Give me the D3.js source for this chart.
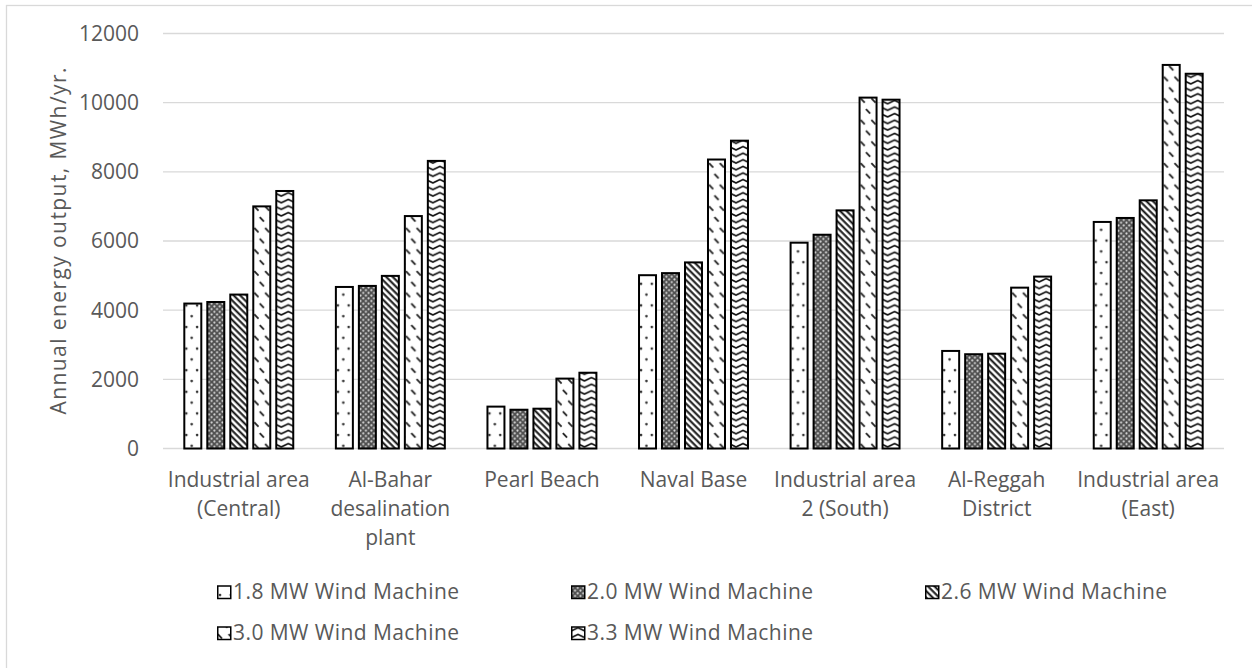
<!DOCTYPE html>
<html>
<head>
<meta charset="utf-8">
<script src="https://cdn.jsdelivr.net/npm/d3@7"></script>
<style>
  html, body { margin: 0; padding: 0; background: #fff; }
  svg { display: block; }
  text { font-family: "Open Sans", sans-serif; fill: #595959; }
</style>
</head>
<body>
<svg id="chart" width="1252" height="668"></svg>
<script>
// ---- data ----
const categories = [
  "Industrial area\n(Central)",
  "Al-Bahar\ndesalination\nplant",
  "Pearl Beach",
  "Naval Base",
  "Industrial area\n2 (South)",
  "Al-Reggah\nDistrict",
  "Industrial area\n(East)"
];
const seriesNames = [
  "1.8 MW Wind Machine",
  "2.0 MW Wind Machine",
  "2.6 MW Wind Machine",
  "3.0 MW Wind Machine",
  "3.3 MW Wind Machine"
];
const values18 = [4220, 4700, 1240, 5040, 5980, 2850, 6580];
const values20 = [4265, 4730, 1150, 5100, 6210, 2755, 6695];
const values26 = [4480, 5020, 1180, 5410, 6915, 2770, 7205];
const values30 = [7030, 6750, 2050, 8385, 10175, 4680, 11120];
const values33 = [7475, 8345, 2220, 8930, 10115, 5000, 10865];
const seriesValues = [values18, values20, values26, values30, values33];
const yTicks = [0, 2000, 4000, 6000, 8000, 10000, 12000];
const yTitle = "Annual energy output, MWh/yr.";

// ---- layout ----
const svg = d3.select("#chart");
const plot = { left: 163, right: 1224, top: 33.5, bottom: 448.5 };

// border
svg.append("rect").attr("x", 6.5).attr("y", 5.5).attr("width", 1300).attr("height", 700)
  .attr("fill", "none").attr("stroke", "#d9d9d9").attr("stroke-width", 1.3);

// patterns
const defs = svg.append("defs");
const patIds = ["p18", "p20", "p26", "p30", "p33"];
{
  let p = defs.append("pattern").attr("id", "p18").attr("patternUnits", "userSpaceOnUse")
    .attr("width", 10.8).attr("height", 21.6);
  p.append("rect").attr("width", 10.8).attr("height", 21.6).attr("fill", "#fff");
  p.append("circle").attr("cx", 3).attr("cy", 3).attr("r", 1.3).attr("fill", "#333");
  p.append("circle").attr("cx", 8.4).attr("cy", 13.8).attr("r", 1.3).attr("fill", "#333");

  p = defs.append("pattern").attr("id", "p20").attr("patternUnits", "userSpaceOnUse")
    .attr("width", 5.4).attr("height", 5.4);
  p.append("rect").attr("width", 5.4).attr("height", 5.4).attr("fill", "#505050");
  p.append("circle").attr("cx", 1.35).attr("cy", 1.35).attr("r", 1.05).attr("fill", "#ddd");
  p.append("circle").attr("cx", 4.05).attr("cy", 4.05).attr("r", 1.05).attr("fill", "#ddd");

  p = defs.append("pattern").attr("id", "p26").attr("patternUnits", "userSpaceOnUse")
    .attr("width", 4.6).attr("height", 4.6).attr("patternTransform", "rotate(-45)");
  p.append("rect").attr("width", 4.6).attr("height", 4.6).attr("fill", "#fff");
  p.append("line").attr("x1", 1.5).attr("y1", 0).attr("x2", 1.5).attr("y2", 4.6)
    .attr("stroke", "#111").attr("stroke-width", 2);

  p = defs.append("pattern").attr("id", "p30").attr("patternUnits", "userSpaceOnUse")
    .attr("width", 10.8).attr("height", 21.6);
  p.append("rect").attr("width", 10.8).attr("height", 21.6).attr("fill", "#fff");
  p.append("line").attr("x1", 0.8).attr("y1", 1).attr("x2", 5).attr("y2", 5.6)
    .attr("stroke", "#222").attr("stroke-width", 1.8);
  p.append("line").attr("x1", 6.2).attr("y1", 11.8).attr("x2", 10.4).attr("y2", 16.4)
    .attr("stroke", "#222").attr("stroke-width", 1.8);

  p = defs.append("pattern").attr("id", "p33").attr("patternUnits", "userSpaceOnUse")
    .attr("width", 14).attr("height", 6.6);
  p.append("rect").attr("width", 14).attr("height", 6.6).attr("fill", "#fff");
  p.append("path").attr("d", "M-1,5.2 L7,1.4 L15,5.2").attr("fill", "none")
    .attr("stroke", "#111").attr("stroke-width", 1.8);
}

// scales
const y = d3.scaleLinear().domain([0, 12000]).range([plot.bottom, plot.top]);
const x0 = d3.scaleBand().domain(d3.range(categories.length))
  .range([plot.left, plot.right]).paddingInner(0.268).paddingOuter(0.134);
const x1 = d3.scaleBand().domain(d3.range(seriesNames.length))
  .range([0, x0.bandwidth()]).paddingInner(0.174).paddingOuter(0);

// gridlines
svg.append("g").selectAll("line").data(yTicks).join("line")
  .attr("x1", plot.left).attr("x2", plot.right)
  .attr("y1", d => y(d)).attr("y2", d => y(d))
  .attr("stroke", "#d9d9d9").attr("stroke-width", 1.3);

// y tick labels
svg.append("g").selectAll("text").data(yTicks).join("text")
  .attr("x", 139).attr("y", d => y(d)).attr("dy", "0.35em")
  .attr("text-anchor", "end").attr("font-size", 21).text(d => d);

// y title
svg.append("text").attr("transform", "translate(66,241) rotate(-90)")
  .attr("text-anchor", "middle").attr("font-size", 21)
  .attr("textLength", 347).attr("lengthAdjust", "spacing").text(yTitle);

// bars
const groups = svg.append("g").selectAll("g").data(categories).join("g")
  .attr("transform", (d, i) => `translate(${x0(i)},0)`);
groups.each(function(cat, ci) {
  d3.select(this).selectAll("rect").data(seriesValues.map((arr, si) => ({ si, v: arr[ci] })))
    .join("rect")
    .attr("x", d => x1(d.si) + 1)
    .attr("width", x1.bandwidth() - 2)
    .attr("y", d => y(d.v) + 1)
    .attr("height", d => y(0) - y(d.v) - 1)
    .attr("fill", d => `url(#${patIds[d.si]})`)
    .attr("stroke", "#000").attr("stroke-width", 2);
});

// category labels
const lineH = 29;
svg.append("g").selectAll("text").data(categories).join("text")
  .attr("x", (d, i) => x0(i) + x0.bandwidth() / 2)
  .attr("y", 480).attr("text-anchor", "middle").attr("font-size", 21)
  .each(function(d) {
    d3.select(this).selectAll("tspan").data(d.split("\n")).join("tspan")
      .attr("x", d3.select(this).attr("x"))
      .attr("dy", (t, k) => k === 0 ? "0.35em" : lineH)
      .text(t => t);
  });

// legend
const legendPos = [[217, 592], [571, 592], [925, 592], [217, 633], [571, 633]];
const lg = svg.append("g").selectAll("g").data(seriesNames).join("g")
  .attr("transform", (d, i) => `translate(${legendPos[i][0]},${legendPos[i][1]})`);
lg.append("rect").attr("x", 0.75).attr("y", -6).attr("width", 13).attr("height", 12.5)
  .attr("fill", (d, i) => `url(#${patIds[i]})`).attr("stroke", "#000").attr("stroke-width", 1.5);
lg.append("text").attr("x", 16).attr("y", 0).attr("dy", "0.35em")
  .attr("font-size", 21).attr("textLength", 226).attr("lengthAdjust", "spacing")
  .text(d => d);
</script>
</body>
</html>
